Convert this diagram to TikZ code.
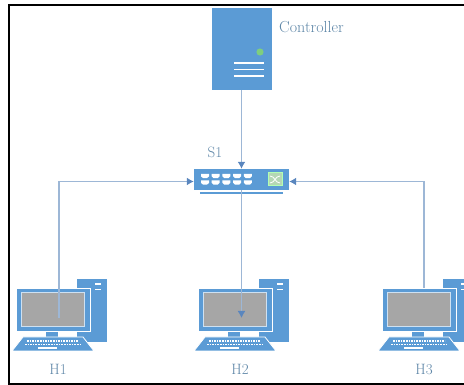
\documentclass[tikz,border=0pt]{standalone}
\usepackage{xcolor}
\usepackage{tikz}
\usetikzlibrary{arrows.meta}
\definecolor{hostblue}{HTML}{5B9BD5}
\definecolor{linkblue}{HTML}{9DB7D6}
\definecolor{tipblue}{HTML}{5A86BE}
\definecolor{labelblue}{HTML}{5F87A8}
\tikzset{
  label text/.style={text=labelblue,inner sep=0pt,font=\fontsize{15}{17}\selectfont},
  link/.style={draw=linkblue,line width=1.3pt,-{Latex[length=7pt,width=8pt,color=tipblue]}},
  white bar/.style={draw=white,line width=1.3pt},
  keys/.style={draw=white,line width=1.5pt,dash pattern=on 1.6pt off 1pt}
}
\begin{document}
\begin{tikzpicture}[x=1pt,y=-1pt]
        \useasboundingbox (0,0) rectangle (464,385);
        \draw[line width=2pt] (464,5.5) -- (9,5.5) -- (9,384) -- (464,384);

        \node[fill=hostblue,minimum width=60pt,minimum height=82pt,inner sep=0pt] (Controller) at (241.5,49) {};
        \fill[fill=green!45!gray!70] (260,52) circle (3.6);
        \draw[white bar] (234,63) -- (264,63);
        \draw[white bar] (234,69.5) -- (264,69.5);
        \draw[white bar] (234,76) -- (264,76);
        \node[label text,anchor=west,font=\fontsize{16}{18}\selectfont] (ControllerLabel) at (279,27) {Controller};

        \node[fill=hostblue,minimum width=95pt,minimum height=21pt,inner sep=0pt] (S1) at (241.5,179.5) {};
        \draw[draw=hostblue,line width=2pt] (200,193.5) -- (283,193.5);
        \foreach \col in {205,215.7,226.4,237.1,247.8}{
          \foreach \row in {176,182.5}{
            \fill[white] (\col-4,\row-2.2) -- (\col+4,\row-2.2) -- (\col+4,\row+0.3) -- (\col+2,\row+2.2) -- (\col-2,\row+2.2) -- (\col-4,\row+0.3) -- cycle;
          }
        }
        \draw[draw=white!70!green,fill=green!30!gray!45,line width=1pt] (268,173) rectangle (282,186);
        \draw[white,line width=0.8pt] (270,176) .. controls (275,176) and (275,183) .. (280,183);
        \draw[white,line width=0.8pt] (270,183) .. controls (275,183) and (275,176) .. (280,176);
        \node[label text] (S1Label) at (215,152) {S1};

        \foreach \name/\off in {H1/0,H2/182,H3/366}{
          \begin{scope}[xshift=\off pt]
            \fill[hostblue] (77,279) rectangle (107,342);
            \draw[white bar] (95,284) -- (101,284);
            \draw[white bar] (95,289.5) -- (101,289.5);
            \fill[hostblue] (46,331) rectangle (58,338);
            \draw[white,line width=0.8pt,fill=hostblue] (23,337) -- (83,337) -- (94,351) -- (12,351) -- cycle;
            \draw[keys] (27,341) -- (79,341);
            \draw[keys] (25,344.5) -- (81,344.5);
            \draw[white,line width=1.3pt] (38,348) -- (57,348);
            \node[draw=white,line width=0.8pt,fill=hostblue,minimum width=74pt,minimum height=43pt,inner sep=0pt] (\name-monitor) at (53,309.5) {};
            \node[draw=white!70!hostblue,line width=0.8pt,fill=gray!70,minimum width=63pt,minimum height=34pt,inner sep=0pt] (\name-screen) at (53,309) {};
            \coordinate (\name-end) at (59,318);
            \coordinate (\name-top) at (58,288);
            \node[label text] (\name-label) at (58,369) {\name};
          \end{scope}
        }

        \draw[link] (Controller.south) -- (S1.north);
        \draw[link] (S1.south) -- (S1.south |- H2-end);
        \draw[link] (H1-end) |- ([yshift=-2pt]S1.west);
        \draw[link] (H3-top) |- ([yshift=-2pt]S1.east);
\end{tikzpicture}
\end{document}
